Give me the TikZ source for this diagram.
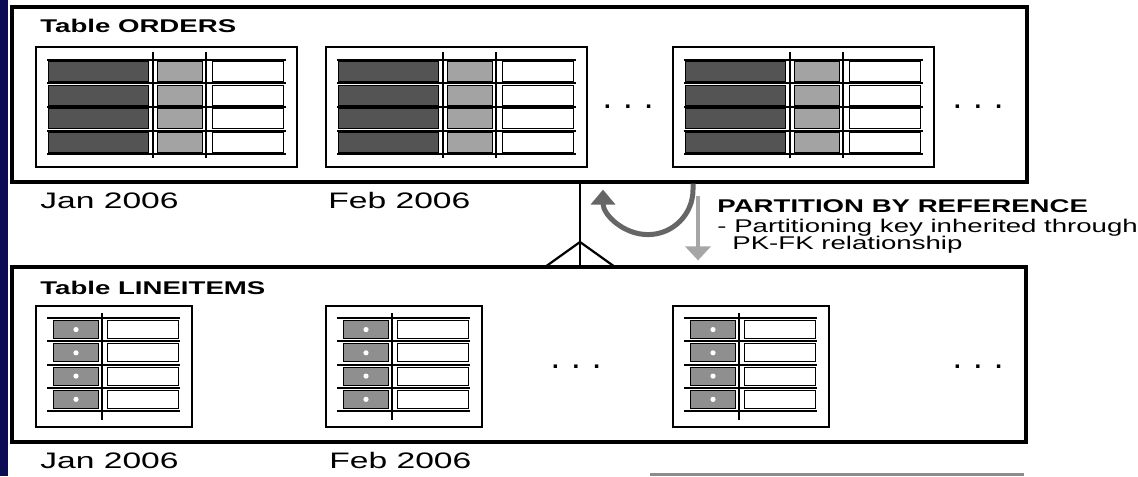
\documentclass[tikz,border=0pt]{standalone}
\usepackage{fontspec}
\setmainfont{Liberation Sans}
\newfontfamily\widesans[FakeStretch=1.5]{Liberation Sans}
\usetikzlibrary{positioning}
\usetikzlibrary{arrows.meta}
\definecolor{navy}{RGB}{12,12,84}
\definecolor{keydark}{gray}{0.33}
\definecolor{keymid}{gray}{0.64}
\definecolor{fkgray}{gray}{0.56}
\tikzset{outerbox/.style = {draw, line width=1.6pt, inner sep=0pt}}
\tikzset{tablebox/.style = {draw, line width=1.3pt, inner sep=0pt}}
\tikzset{caption/.style = {font=\widesans\fontsize{9.2}{11}\selectfont\bfseries, anchor=base west, inner sep=0pt}}
\tikzset{month/.style = {font=\widesans\fontsize{11.2}{13}\selectfont, anchor=base west, inner sep=0pt}}
\tikzset{note/.style = {font=\widesans\fontsize{9.2}{11}\selectfont, anchor=base west, inner sep=0pt}}
\tikzset{dots/.style = {font=\fontsize{12}{14}\selectfont\bfseries, inner sep=0pt}}
\tikzset{divider/.style = {line width=1.3pt}}
\tikzset{rowline/.style = {line width=1pt}}
\tikzset{cell/.style = {draw=black, line width=0.5pt}}
\tikzset{relline/.style = {line width=1.1pt}}
\tikzset{turnarrow/.style = {draw=black!60, line width=2.5pt, -{Triangle[length=7.5pt,width=12pt]}}}
\tikzset{droparrow/.style = {draw=black!35, line width=1.8pt, -{Triangle[length=7pt,width=12.5pt]}}}

\begin{document}
\begin{tikzpicture}[x=0.5pt, y=-0.5pt]
\useasboundingbox (0,0) rectangle (1138,476);
\fill[navy] (0,0) rectangle (8,476);
% the two partitioned tables
\node[outerbox, minimum width=507.5pt, minimum height=87.5pt](orders) at (519.5,94.5) {};
\node[outerbox, minimum width=507pt, minimum height=87.5pt](lineitems) at (519,354.5) {};
\node[caption](orderslbl) at (40,33) {Table ORDERS};
\node[caption](itemslbl) at (40,294) {Table LINEITEMS};
% ORDERS partitions
\foreach \tx/\nm in {36/ordjan,326/ordfeb,673/ordlast} {
  \node[tablebox, minimum width=130.5pt, minimum height=60pt](\nm) at ({\tx+130.5},107) {};
  \foreach \r in {0,...,3} {
    \pgfmathsetmacro\ry{71.75+23.5*\r}
    \filldraw[cell, fill=keydark] ({\tx+12},{\ry-10}) rectangle ({\tx+112},{\ry+10});
    \filldraw[cell, fill=keymid] ({\tx+121},{\ry-10}) rectangle ({\tx+166},{\ry+10});
    \filldraw[cell, fill=white] ({\tx+176},{\ry-10}) rectangle ({\tx+247},{\ry+10});
  }
  \foreach \ly in {60,83.5,107,130.5,154}
    \draw[rowline] ({\tx+11},\ly) -- ({\tx+250},\ly);
  \draw[divider] ({\tx+117},52) -- ({\tx+117},158);
  \draw[divider] ({\tx+170},52) -- ({\tx+170},158);
}
% LINEITEMS partitions
\foreach \tx/\nm in {36/itemjan,326/itemfeb,673/itemlast} {
  \node[tablebox, minimum width=78pt, minimum height=60.5pt](\nm) at ({\tx+78},366.5) {};
  \foreach \r in {0,...,3} {
    \pgfmathsetmacro\ry{329.6+23.25*\r}
    \filldraw[cell, fill=fkgray] ({\tx+17},{\ry-9}) rectangle ({\tx+62},{\ry+9});
    \fill[white] ({\tx+40},\ry) circle (1.3pt);
    \filldraw[cell, fill=white] ({\tx+71},{\ry-9}) rectangle ({\tx+142},{\ry+9});
  }
  \foreach \ly in {318,341.25,364.5,387.75,411}
    \draw[rowline] ({\tx+11},\ly) -- ({\tx+144},\ly);
  \draw[divider] ({\tx+66},313) -- ({\tx+66},420);
}
\node[dots](ordmore) at (628,107) {.\hskip7pt.\hskip7pt.};
\node[dots](ordrest) at (978,107) {.\hskip7pt.\hskip7pt.};
\node[dots](itemmore) at (576,367) {.\hskip7pt.\hskip7pt.};
\node[dots](itemrest) at (978,367) {.\hskip7pt.\hskip7pt.};
\node[month](ordjanlbl) at (40,208) {Jan 2006};
\node[month](ordfeblbl) at (328,208) {Feb 2006};
\node[month](itemjanlbl) at (40,468) {Jan 2006};
\node[month](itemfeblbl) at (329,468) {Feb 2006};
% PK-FK relationship
\coordinate (fkx) at (580,0);
\coordinate (crow) at (580,242);
\coordinate (crowl) at (545,267);
\coordinate (crowr) at (615,267);
\draw[relline] (orders.south -| fkx) -- (lineitems.north -| fkx);
\draw[relline] (crowl) -- (crow) -- (crowr);
\coordinate (turn) at (693,0);
\coordinate (drop) at (698,196);
\draw[turnarrow] (orders.south -| turn) -- ++(0,6) arc[start angle=0, end angle=-180, radius=22.5pt];
\draw[droparrow, shorten >=2.5pt] (drop) -- (lineitems.north -| drop);
\node[caption](reflbl) at (717,212) {PARTITION BY REFERENCE};
\node[note](refnote) at (717,232) {- Partitioning key inherited through};
\node[note](refnote2) at (732,249) {PK-FK relationship};
% next box, cut off at the bottom
\draw[black!45, line width=1.5pt] (650,474.5) -- (1024,474.5);
\end{tikzpicture}
\end{document}
